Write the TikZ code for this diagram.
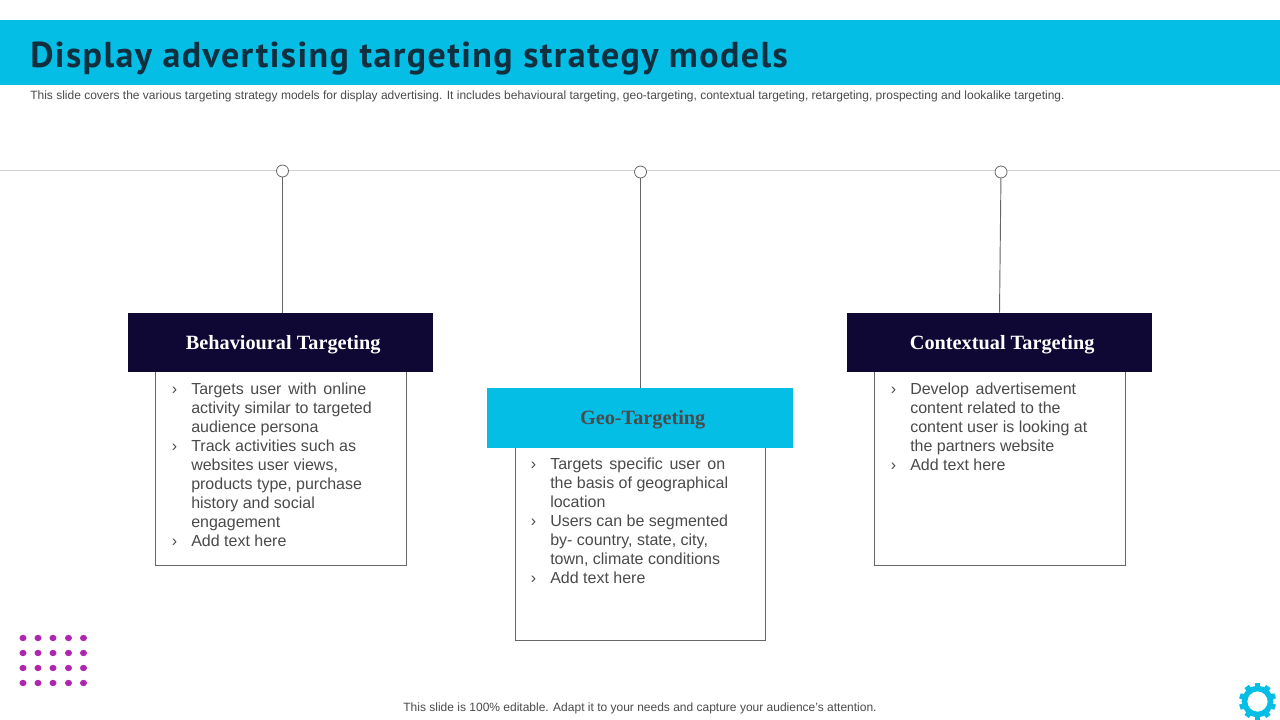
\documentclass[tikz,border=0pt]{standalone}
\usepackage{fontspec}
\setmainfont{Liberation Sans}
\newfontfamily\titlefont[LetterSpace=3.95]{PT Sans}
\newfontfamily\headfont{Liberation Serif}
\definecolor{bandblue}{HTML}{05BEE6}
\definecolor{navybox}{HTML}{100834}
\definecolor{titleink}{HTML}{10303F}
\definecolor{bodyink}{HTML}{4A4A4A}
\definecolor{linegray}{HTML}{666666}
\definecolor{dotpurple}{HTML}{B025B0}
\newcommand{\bul}{\leavevmode\llap{›\hspace{10.5pt}}}
\newcommand{\widesp}{\spaceskip=.42em\relax}
\begin{document}
\begin{tikzpicture}[x=0.75pt,y=-0.75pt]
\tikzset{headbox/.style={minimum width=229pt,minimum height=44.5pt,inner sep=0pt,text height=10pt,text depth=0pt,
  execute at begin node=\hspace{4pt},font={\headfont\fontsize{15.2}{17}\selectfont\bfseries}}}
\tikzset{bodybox/.style={draw=linegray,line width=0.7pt,minimum width=188pt,inner sep=0pt,anchor=north}}
\tikzset{bodytext/.style={anchor=north west,inner sep=0pt,align=left,text=bodyink,
  font={\fontsize{12}{14.25}\selectfont}}}
\tikzset{pin/.style={circle,draw=linegray,fill=white,line width=0.6pt,minimum size=9pt,inner sep=0pt}}
\tikzset{smalltext/.style={text=bodyink,inner sep=0pt,font={\fontsize{9}{11}\selectfont}}}
\useasboundingbox (0,0) rectangle (1280,720);
% band and title
\fill[bandblue] (0,20) rectangle (1280,85);
\node[anchor=base west,inner sep=0pt,text=titleink,font={\titlefont\fontsize{27}{30}\selectfont\bfseries}] (title) at (30,68) {Display advertising targeting strategy models};
\node[smalltext,anchor=west] (subtitle) at (30,96) {This slide covers the various targeting strategy models for display advertising. It includes behavioural targeting, geo-targeting, contextual targeting, retargeting, prospecting and lookalike targeting.};
% rail
\coordinate (railstart) at (0,170);
\coordinate (railend) at (1280,170);
\draw[black!18,line width=0.7pt] (railstart) -- (railend);
% lower boxes first, headers sit on them
\node[bodybox,minimum height=146.25pt] (behbox) at (281,370) {};
\node[bodybox,minimum height=145.5pt] (geobox) at (640.5,446) {};
\node[bodybox,minimum height=146.25pt] (conbox) at (1000,370) {};
\node[headbox,fill=navybox,text=white] (behhead) at (280.5,342.5) {Behavioural Targeting};
\node[headbox,fill=bandblue,text=bodyink,minimum height=45pt] (geohead) at (640,418) {Geo-Targeting};
\node[headbox,fill=navybox,text=white] (conhead) at (999.5,342.5) {Contextual Targeting};
\node[pin] (behpin) at (282.5,171) {};
\node[pin] (geopin) at (640.5,172) {};
\node[pin] (conpin) at (1001,172) {};
\draw[linegray,line width=0.7pt] (behpin) -- (behpin |- behhead.north);
\draw[linegray,line width=0.7pt] (geopin) -- (geopin |- geohead.north);
\draw[linegray,line width=0.7pt] (conpin) -- (conhead.north);
% box texts
\node[bodytext] (behtext) at (191,383) {\widesp\bul Targets user with online\\activity similar to targeted\\audience persona\\\bul Track activities such as\\websites user views,\\products type, purchase\\history and social\\engagement\\\bul Add text here};
\node[bodytext] (geotext) at (550,458) {\widesp\bul Targets specific user on\\the basis of geographical\\location\\\bul Users can be segmented\\by- country, state, city,\\town, climate conditions\\\bul Add text here};
\node[bodytext] (context) at (910,383) {\widesp\bul Develop advertisement\\content related to the\\content user is looking at\\the partners website\\\bul Add text here};
\node[smalltext] (footer) at (640,708.5) {This slide is 100\% editable. Adapt it to your needs and capture your audience's attention.};
% dots
\foreach \px in {23,38,53,68.5,83.5}
  \foreach \py in {638,653,668,683}
    \fill[dotpurple] (\px,\py) circle [x radius=3.5,y radius=3.2];
% gear
\draw[bandblue,line width=4.2pt] (1257.5,701.5) circle [radius=13];
\foreach \ang in {0,36,...,324}
  \fill[bandblue,shift={(1257.5,701.5)},rotate=\ang] (-2.7,-14) rectangle (2.7,-18.5);
\end{tikzpicture}
\end{document}
